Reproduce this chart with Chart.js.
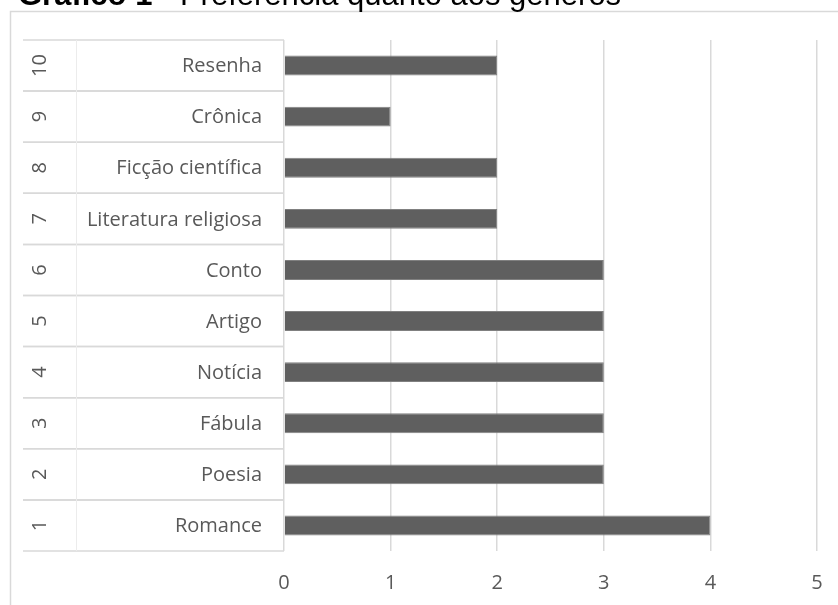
<!DOCTYPE html>
<html>
<head>
<meta charset="utf-8">
<script src="https://cdn.jsdelivr.net/npm/chart.js@4"></script>
<style>
  html, body { margin: 0; padding: 0; background: #fff; }
</style>
</head>
<body>
<canvas id="grafico" width="838" height="605"></canvas>
<script>
(() => {
  'use strict'

  const tituloNegrito = 'Gráfico 1'
  const tituloResto = ' - Preferência quanto aos gêneros'
  const numeros = ['1', '2', '3', '4', '5', '6', '7', '8', '9', '10']
  const generos = [
    'Romance',
    'Poesia',
    'Fábula',
    'Notícia',
    'Artigo',
    'Conto',
    'Literatura religiosa',
    'Ficção científica',
    'Crônica',
    'Resenha'
  ]
  const valores = [4, 3, 3, 3, 3, 3, 2, 2, 1, 2]
  const ticksX = [0, 1, 2, 3, 4, 5]

  const fonte = '"Open Sans"'
  const tamanho = 20
  const corTexto = '#595959'
  const corLinha = '#d9d9d9'

  // moldura, titulo cortado e tabela de rotulos em dois niveis
  const extras = {
    id: 'extras',
    beforeDraw (chart) {
      const c = chart.ctx
      c.save()
      c.strokeStyle = corLinha
      c.lineWidth = 1.5
      c.strokeRect(10.5, 11.5, 900, 700)
      c.fillStyle = '#000'
      c.textBaseline = 'alphabetic'
      c.font = 'bold 31px "Liberation Sans", Arial'
      c.fillText(tituloNegrito, 18, 5)
      const w = c.measureText(tituloNegrito).width
      c.font = '31px "Liberation Sans", Arial'
      c.fillText(tituloResto, 18 + w, 5)
      c.restore()
    },
    afterDraw (chart) {
      const c = chart.ctx
      const y = chart.scales.y
      const area = chart.chartArea
      const banda = Math.abs(y.getPixelForValue(1) - y.getPixelForValue(0))
      c.save()
      c.strokeStyle = corLinha
      c.lineWidth = 1.5
      for (let i = 0; i < generos.length; i++) {
        const yc = y.getPixelForValue(i)
        c.beginPath()
        c.moveTo(23, yc - banda / 2)
        c.lineTo(area.left, yc - banda / 2)
        c.moveTo(23, yc + banda / 2)
        c.lineTo(area.left, yc + banda / 2)
        c.stroke()
      }
      c.strokeStyle = '#ececec'
      c.lineWidth = 1
      c.beginPath()
      c.moveTo(76.5, area.top)
      c.lineTo(76.5, area.bottom)
      c.stroke()

      c.fillStyle = corTexto
      c.font = tamanho + 'px ' + fonte
      c.textBaseline = 'middle'
      for (let i = 0; i < generos.length; i++) {
        const yc = y.getPixelForValue(i)
        c.textAlign = 'right'
        c.fillText(generos[i], 262, yc + 1)
        c.save()
        c.translate(40, yc)
        c.rotate(-Math.PI / 2)
        c.textAlign = 'center'
        c.fillText(numeros[i], 0, 0)
        c.restore()
      }
      c.restore()
    }
  }

  const ctx = document.getElementById('grafico')
  // eslint-disable-next-line no-unused-vars
  const grafico = new Chart(ctx, {
    type: 'bar',
    data: {
      labels: generos,
      datasets: [{
        label: 'Preferência',
        data: valores,
        backgroundColor: '#5f5f5f',
        borderColor: '#808080',
        borderWidth: 1,
        categoryPercentage: 1,
        barPercentage: 0.39
      }]
    },
    options: {
      indexAxis: 'y',
      responsive: false,
      animation: false,
      layout: {
        padding: { top: 40, right: 21, left: 0, bottom: 0 }
      },
      plugins: {
        legend: { display: false },
        tooltip: { enabled: false }
      },
      scales: {
        x: {
          min: ticksX[0],
          max: ticksX[ticksX.length - 1],
          afterBuildTicks (scale) {
            scale.ticks = ticksX.map(v => ({ value: v }))
          },
          afterFit (scale) {
            scale.height = 54
            scale.paddingLeft = 0
            scale.paddingRight = 0
          },
          border: { display: false },
          grid: {
            color: corLinha,
            lineWidth: 1.5,
            drawTicks: false
          },
          ticks: {
            padding: 20,
            color: corTexto,
            font: { family: 'Open Sans', size: tamanho }
          }
        },
        y: {
          reverse: true,
          afterFit (scale) {
            scale.width = 284
          },
          border: { display: false },
          grid: { display: false },
          ticks: { display: false }
        }
      }
    },
    plugins: [extras]
  })
})()
</script>
</body>
</html>
